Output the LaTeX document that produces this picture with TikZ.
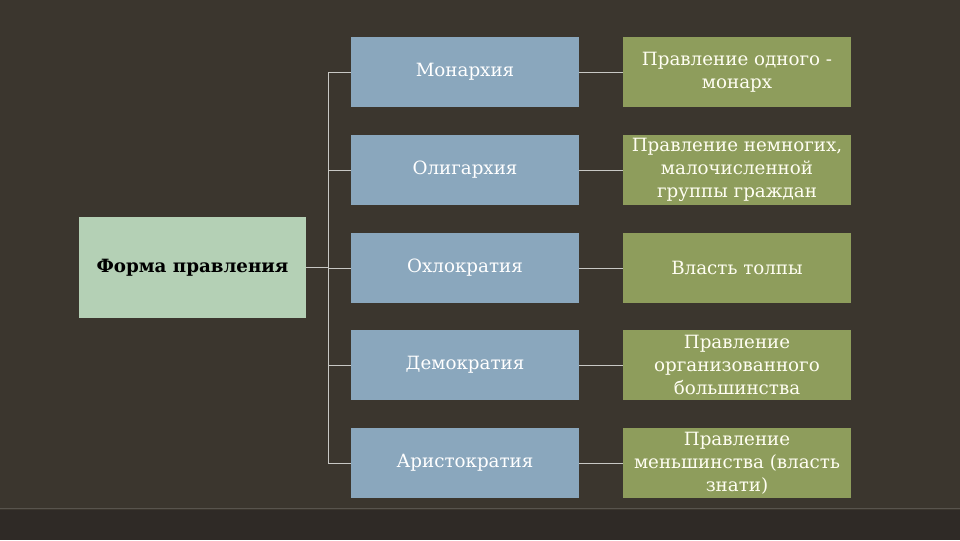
\documentclass[tikz,border=0pt]{standalone}
\usepackage{fontspec}
\setmainfont{DejaVu Serif}
\usepackage{tikz}
\usetikzlibrary{positioning}
\definecolor{slidebg}{RGB}{59,54,46}
\definecolor{slidebase}{RGB}{47,42,38}
\definecolor{rootgreen}{RGB}{180,208,181}
\definecolor{kindblue}{RGB}{138,167,189}
\definecolor{descolive}{RGB}{142,157,92}
\definecolor{linkgrey}{RGB}{200,200,196}
\tikzset{
  root/.style={fill=rootgreen, minimum width=227*0.75pt, minimum height=101*0.75pt,
               inner sep=0pt, align=center, text=black,
               font=\fontsize{13.7}{17.25}\selectfont\bfseries},
  kind/.style={fill=kindblue, minimum width=228*0.75pt, minimum height=70*0.75pt,
               inner sep=0pt, align=center, text=white,
               font=\fontsize{13.7}{17.25}\selectfont},
  descr/.style={fill=descolive, minimum width=228*0.75pt, minimum height=70*0.75pt,
                inner sep=0pt, align=center, text=white!95!yellow,
                font=\fontsize{13.7}{17.25}\selectfont},
  link/.style={draw=linkgrey, line width=0.6pt},
}

\begin{document}
\begin{tikzpicture}[x=0.75pt,y=-0.75pt]
  \fill[slidebg] (0,0) rectangle (960,540);
  \useasboundingbox (0,0) rectangle (960,540);
  \fill[slidebase] (0,510) rectangle (960,540);
  \draw[slidebg!85!white, line width=0.5pt] (0,508.5) -- (960,508.5);

  % root
  \node[root] (form) at (192.5,267.5) {Форма правления};

  % kinds of rule
  \node[kind] (mon) at (465,72) {Монархия};
  \node[kind] (olig) at (465,170) {Олигархия};
  \node[kind] (ochl) at (465,268) {Охлократия};
  \node[kind] (dem) at (465,365) {Демократия};
  \node[kind] (arist) at (465,463) {Аристократия};

  % descriptions
  \node[descr] (dmon) at (737,72) {Правление одного -\\монарх};
  \node[descr] (dolig) at (737,170) {Правление немногих,\\малочисленной\\группы граждан};
  \node[descr] (dochl) at (737,268) {Власть толпы};
  \node[descr] (ddem) at (737,365) {Правление\\организованного\\большинства};
  \node[descr] (darist) at (737,463) {Правление\\меньшинства (власть\\знати)};

  % connectors
  \coordinate (trunk) at (328,267.5);
  \draw[link] (form.east) -- (trunk);
  \foreach \k in {mon,olig,ochl,dem,arist}
    \draw[link] (trunk) |- (\k.west);
  \draw[link] (mon.east) -- (dmon.west);
  \draw[link] (olig.east) -- (dolig.west);
  \draw[link] (ochl.east) -- (dochl.west);
  \draw[link] (dem.east) -- (ddem.west);
  \draw[link] (arist.east) -- (darist.west);
\end{tikzpicture}
\end{document}
